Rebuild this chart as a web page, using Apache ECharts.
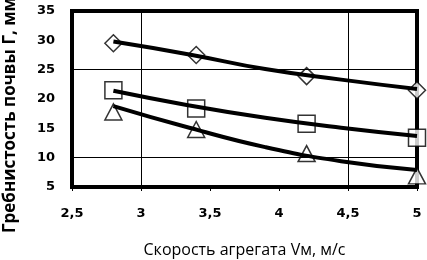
<!DOCTYPE html>
<html><head><meta charset="utf-8">
<script src="https://cdn.jsdelivr.net/npm/echarts@6/dist/echarts.min.js"></script>
<style>html,body{margin:0;padding:0;background:#fff}#c{width:427px;height:260px}</style>
</head><body><div id="c"></div>
<script>
// Measured points
const xPoints = [2.8, 3.4, 4.2, 5.0];
const diamondVals = [29.5, 27.5, 23.9, 21.5];
const squareVals = [21.5, 18.4, 15.8, 13.4];
const triangleVals = [17.8, 14.8, 10.7, 6.9];
// Trend lines
const trendX = [2.8, 3.35, 3.9, 4.45, 5.0];
const diamondTrend = [29.8, 27.6, 25.1, 23.3, 21.7];
const squareTrend = [21.4, 18.9, 16.8, 15.1, 13.7];
const triangleTrend = [18.8, 15.1, 11.8, 9.4, 7.9];
// Reference lines
const hGrid = [10, 25];
const vGrid = [3, 4.5];
const xTitle = 'Скорость агрегата Vм, м/с';
const yTitle = 'Гребнистость почвы Г, мм';

const zip = (xs, ys) => xs.map((x, i) => [x, ys[i]]);
const chart = echarts.init(document.getElementById('c'), null, {renderer: 'canvas'});
const mk = (name, sym, vals) => ({
  type: 'scatter', name, data: zip(xPoints, vals), symbol: sym, symbolSize: sym === 'triangle' ? [17, 16] : 17,
  itemStyle: {color: '#fff', borderColor: '#000', borderWidth: 1.5}, z: 3
});
const tr = (vals) => ({
  type: 'line', data: zip(trendX, vals), smooth: 0.5, symbol: 'none',
  lineStyle: {color: '#000', width: 4}, z: 4, silent: true
});
chart.setOption({
  animation: false,
  grid: {left: 72, right: 10, top: 11, bottom: 73, show: true, borderColor: '#000', borderWidth: 4,
    outerBoundsMode: 'none', containLabel: false},
  xAxis: {
    type: 'value', min: 2.5, max: 5, interval: 0.5,
    axisLine: {show: true, lineStyle: {color: '#000', width: 4}},
    axisTick: {show: true, length: 4, lineStyle: {color: '#000'}},
    splitLine: {show: false},
    axisLabel: {color: '#000', fontFamily: 'DejaVu Sans', fontWeight: 'bold', fontSize: 13, margin: 20,
      formatter: v => String(v).replace('.', ',')},
    name: xTitle, nameLocation: 'middle', nameGap: 55,
    nameTextStyle: {color: '#000', fontFamily: 'Open Sans', fontSize: 16}
  },
  yAxis: {
    type: 'value', min: 5, max: 35, interval: 5,
    axisLine: {show: true, lineStyle: {color: '#000', width: 4}},
    axisTick: {show: false},
    splitLine: {show: false},
    axisLabel: {color: '#000', fontFamily: 'DejaVu Sans', fontWeight: 'bold', fontSize: 13, margin: 17}
  },
  graphic: [{
    type: 'text', x: 10, y: 233, rotation: Math.PI / 2,
    style: {text: yTitle, fill: '#000', font: 'bold 17px "Open Sans"', align: 'left', verticalAlign: 'middle'}
  }],
  series: [
    {type: 'line', data: [], markLine: {silent: true, symbol: 'none', label: {show: false},
      lineStyle: {color: '#000', width: 1, type: 'solid'},
      data: hGrid.map(v => ({yAxis: v})).concat(vGrid.map(v => ({xAxis: v})))}, z: 1},
    mk('d', 'diamond', diamondVals),
    mk('s', 'rect', squareVals),
    mk('t', 'triangle', triangleVals),
    tr(diamondTrend), tr(squareTrend), tr(triangleTrend)
  ]
});
</script></body></html>
